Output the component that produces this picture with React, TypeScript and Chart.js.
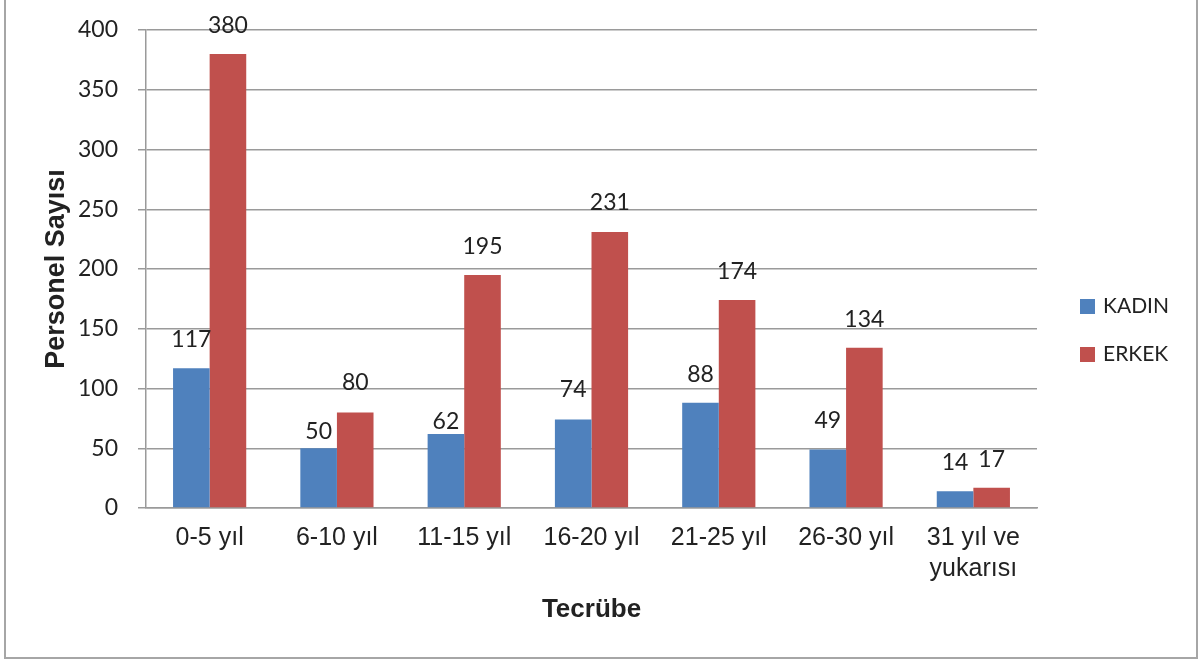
import React, { useEffect, useRef } from "react";
import { Chart, registerables } from "chart.js";

Chart.register(...registerables);

const categories: (string | string[])[] = [
  "0-5 yıl",
  "6-10 yıl",
  "11-15 yıl",
  "16-20 yıl",
  "21-25 yıl",
  "26-30 yıl",
  ["31 yıl ve", "yukarısı"],
];
const seriesNames = ["KADIN", "ERKEK"];
const kadin = [117, 50, 62, 74, 88, 49, 14];
const erkek = [380, 80, 195, 231, 174, 134, 17];
const yMin = 0;
const yMax = 400;
const yStep = 50;
const xTitle = "Tecrübe";
const yTitle = "Personel Sayısı";

const BLUE = "#4F81BD";
const RED = "#C0504D";
const GRID = "#9a9a9a";
const TEXT = "#222222";

// label vertical lift above bar tops (styling, per series)
const labelLifts = [
  [29, 17, 12, 30, 28, 29, 29],
  [28, 30, 28, 29, 28, 28, 28],
];

const framePlugin = {
  id: "frame",
  beforeDraw(chart: any) {
    const { ctx } = chart;
    ctx.save();
    ctx.fillStyle = "#ffffff";
    ctx.fillRect(0, 0, chart.width, chart.height);
    ctx.strokeStyle = "#a6a6a6";
    ctx.lineWidth = 2;
    ctx.strokeRect(5, -4, 1192, 662);
    ctx.restore();
  },
};

const dataLabelPlugin = {
  id: "dataLabels",
  afterDatasetsDraw(chart: any) {
    const { ctx } = chart;
    ctx.save();
    ctx.font = "23px Lato";
    ctx.fillStyle = TEXT;
    ctx.textAlign = "center";
    ctx.textBaseline = "middle";
    chart.data.datasets.forEach((ds: any, di: number) => {
      const meta = chart.getDatasetMeta(di);
      meta.data.forEach((bar: any, i: number) => {
        const lift = labelLifts[di][i];
        ctx.fillText(String(ds.data[i]), bar.x, bar.y - lift);
      });
    });
    ctx.restore();
  },
};

const legendPlugin = {
  id: "customLegend",
  afterDraw(chart: any) {
    const { ctx } = chart;
    ctx.save();
    ctx.font = "21px Lato";
    ctx.textBaseline = "middle";
    ctx.textAlign = "left";
    chart.data.datasets.forEach((ds: any, i: number) => {
      const cy = 306.5 + i * 48;
      ctx.fillStyle = ds.backgroundColor;
      ctx.fillRect(1080, cy - 7.5, 15, 15);
      ctx.fillStyle = TEXT;
      ctx.fillText(ds.label, 1103, cy);
    });
    ctx.restore();
  },
};

export default function App() {
  const ref = useRef<HTMLCanvasElement | null>(null);

  useEffect(() => {
    if (!ref.current) return;
    const chart = new Chart(ref.current, {
      type: "bar",
      data: {
        labels: categories as any,
        datasets: [
          {
            label: seriesNames[0],
            data: kadin,
            backgroundColor: BLUE,
            barPercentage: 1,
            categoryPercentage: 0.575,
          },
          {
            label: seriesNames[1],
            data: erkek,
            backgroundColor: RED,
            barPercentage: 1,
            categoryPercentage: 0.575,
          },
        ],
      },
      options: {
        responsive: false,
        animation: false,
        layout: { padding: { top: 30, right: 161, bottom: 0, left: 0 } },
        plugins: {
          legend: { display: false },
          tooltip: { enabled: false },
          title: { display: false },
        },
        scales: {
          x: {
            grid: { display: false, drawTicks: false },
            border: { display: true, color: GRID, width: 1.5 },
            ticks: {
              color: TEXT,
              font: { family: "Liberation Sans", size: 25, lineHeight: 1.24 },
              padding: 15,
              maxRotation: 0,
              autoSkip: false,
            },
            title: {
              display: true,
              text: xTitle,
              color: TEXT,
              font: { family: "Liberation Sans", size: 26, weight: "bold", lineHeight: 1.2 },
              padding: { top: 0, bottom: 36 },
            },
            afterFit(scale: any) {
              scale.height = 153;
              scale.paddingLeft = 0;
              scale.paddingRight = 0;
            },
          },
          y: {
            min: yMin,
            max: yMax,
            grid: { color: GRID, lineWidth: 1.5, drawTicks: true, tickLength: 8 },
            border: { display: true, color: GRID, width: 1.5 },
            ticks: {
              stepSize: yStep,
              color: TEXT,
              font: { family: "Lato", size: 23 },
              padding: 20,
            },
            title: {
              display: true,
              text: yTitle,
              color: TEXT,
              font: { family: "Liberation Sans", size: 27, weight: "bold", lineHeight: 1.2 },
              padding: { top: 40, bottom: 0 },
            },
            afterFit(scale: any) {
              scale.width = 146;
              scale.paddingTop = 0;
              scale.paddingBottom = 0;
            },
          },
        },
      },
      plugins: [framePlugin, dataLabelPlugin, legendPlugin],
    });
    return () => chart.destroy();
  }, []);

  return (
    <div style={{ position: "absolute", left: 0, top: 0, width: 1198, height: 661 }}>
      <canvas ref={ref} width={1198} height={661} />
    </div>
  );
}
